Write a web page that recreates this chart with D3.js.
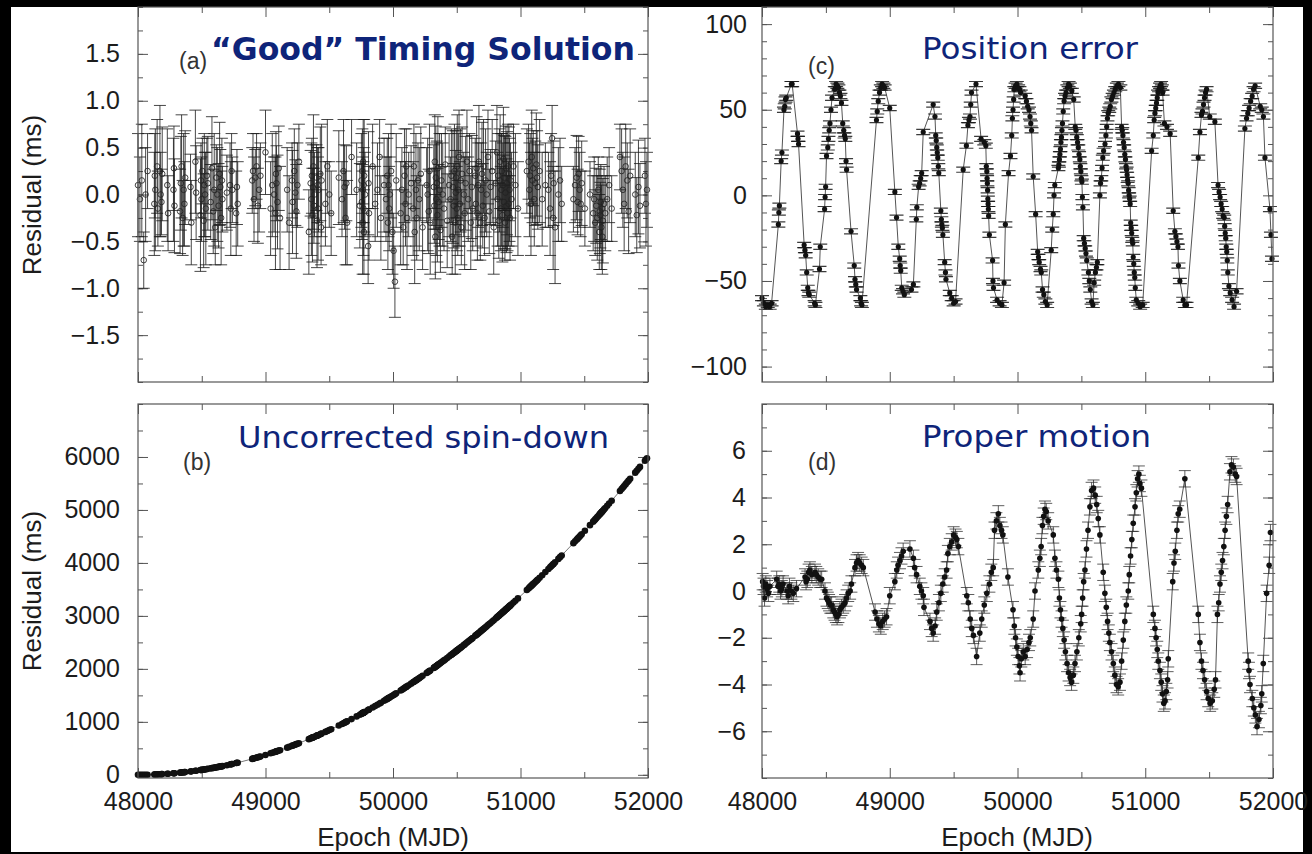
<!DOCTYPE html>
<html><head><meta charset="utf-8">
<script src="https://cdn.jsdelivr.net/npm/d3@7"></script>
<style>html,body{margin:0;padding:0;background:#000;}svg{display:block}</style>
</head><body><svg id="c" width="1312" height="854"></svg>
<script>
// ---------------- DATA ----------------
const epochs = [
48000,48015,48030,48045,48060,48075,48128,48132,48136,48150,48156,48172,48178,48184,48190,48230,48236,48278,48282,48286,
48330,48336,48342,48350,48358,48364,48370,48412,48418,48450,48456,48490,48494,48498,48505,48515,48520,48526,48532,48540,
48548,48570,48580,48590,48598,48606,48614,48622,48632,48640,48646,48652,48658,48662,48697,48722,48728,48734,48740,48770,
48776,48782,48896,48902,48910,48920,48930,48940,48950,48960,49000,49040,49053,49067,49078,49082,49086,49094,49104,49114,
49170,49185,49208,49212,49226,49234,49242,49250,49262,49340,49354,49360,49364,49368,49372,49376,49380,49384,49400,49404,
49408,49412,49416,49430,49436,49440,49470,49485,49500,49515,49575,49600,49612,49620,49628,49634,49640,49675,49715,49740,
49752,49756,49760,49762,49764,49766,49768,49770,49772,49774,49780,49805,49808,49812,49840,49860,49878,49895,49905,49930,
49945,49955,49960,49965,49970,49975,49985,49995,50005,50015,50025,50060,50070,50080,50090,50098,50104,50110,50123,50142,
50158,50164,50170,50180,50186,50196,50206,50218,50232,50264,50272,50280,50286,50292,50320,50324,50328,50332,50336,50340,
50344,50348,50352,50358,50365,50372,50380,50390,50400,50410,50425,50440,50452,50458,50464,50470,50476,50482,50488,50492,
50496,50500,50504,50508,50512,50518,50524,50530,50536,50542,50555,50562,50570,50580,50590,50600,50610,50618,50625,50645,
50650,50656,50662,50668,50674,50685,50692,50698,50704,50710,50718,50726,50735,50745,50755,50765,50778,50790,50805,50815,
50820,50825,50830,50835,50840,50845,50850,50854,50858,50862,50866,50870,50874,50878,50882,50886,50890,50894,50898,50902,
50906,50910,50914,50918,50922,50930,50945,50960,50980,51050,51063,51070,51076,51082,51088,51094,51100,51108,51116,51124,
51130,51136,51150,51170,51195,51219,51232,51240,51248,51256,51260,51271,51297,51310,51323,51415,51428,51440,51448,51456,
51464,51472,51480,51505,51545,51570,51578,51586,51594,51602,51610,51618,51622,51626,51630,51634,51638,51642,51646,51655,
51665,51680,51695,51715,51780,51793,51803,51813,51825,51837,51848,51860,51900,51912,51925,51937,51976,51984,51992];

// (a) residuals after good timing solution (ms) and their errors
const goodRes = [
0.10,-0.05,0.15,-0.70,0.00,0.25,-0.10,0.20,0.05,0.30,-0.15,0.25,0.00,-0.08,0.22,0.10,-0.20,0.05,0.28,-0.12,
-0.18,0.12,0.30,-0.25,0.05,-0.10,0.18,0.08,-0.30,0.35,0.02,-0.22,0.15,-0.05,0.25,-0.28,0.10,0.00,-0.15,0.20,
0.12,-0.08,0.28,-0.18,0.05,-0.35,0.18,0.00,-0.12,0.22,0.08,-0.25,0.15,-0.05,0.02,0.10,-0.15,0.25,0.05,-0.20,
0.08,-0.10,0.15,0.25,-0.05,0.18,0.30,-0.12,0.05,0.20,0.45,-0.15,0.10,0.00,-0.20,0.22,0.12,-0.08,0.28,-0.25,
0.05,-0.30,0.15,-0.08,0.25,0.02,-0.18,0.10,0.35,-0.40,0.12,-0.05,0.20,-0.22,0.08,0.30,-0.12,0.00,0.18,-0.28,
0.10,-0.15,0.05,0.22,-0.35,0.15,-0.10,0.30,0.00,-0.20,0.18,-0.05,0.25,0.08,-0.25,0.12,-0.30,0.40,0.05,-0.12,
0.15,-0.08,0.25,-0.30,0.05,0.35,-0.15,0.10,-0.40,0.20,0.00,-0.55,0.12,-0.20,0.30,-0.10,0.05,0.40,-0.25,0.10,
-0.05,0.20,-0.30,0.10,-0.15,0.00,0.25,-0.40,-0.60,-0.93,0.15,-0.20,0.05,-0.35,0.20,-0.10,0.30,-0.25,0.00,0.12,
-0.15,0.30,-0.40,0.05,-0.25,0.15,-0.05,0.22,-0.35,0.10,0.00,-0.18,0.25,-0.30,0.08,-0.12,0.35,-0.45,0.18,-0.05,
0.12,-0.22,0.28,-0.08,0.05,-0.38,0.15,0.00,-0.15,0.32,-0.28,0.10,-0.05,0.20,-0.45,0.08,-0.12,0.25,-0.30,0.02,
0.18,-0.15,0.30,-0.25,0.05,0.40,-0.10,0.15,-0.35,0.22,0.00,-0.20,0.12,0.35,-0.05,0.25,-0.30,0.08,-0.15,0.20,
-0.10,0.28,-0.20,0.10,0.35,-0.30,0.05,0.22,-0.12,0.30,-0.25,0.15,0.00,0.40,-0.18,0.08,0.25,-0.35,0.12,0.45,
-0.05,0.20,-0.28,0.15,0.35,-0.15,0.05,0.25,-0.22,0.10,0.38,-0.08,0.18,-0.30,0.02,0.28,-0.12,0.12,-0.20,0.30,
-0.10,0.22,0.05,-0.25,0.15,-0.05,0.30,0.10,-0.15,0.25,0.35,0.05,0.20,-0.10,0.40,0.15,0.28,-0.05,0.12,0.32,
0.18,0.08,0.25,-0.05,0.10,0.05,-0.15,0.20,0.60,-0.25,0.12,-0.35,0.00,0.15,-0.10,-0.05,0.10,0.18,-0.08,0.22,
0.05,-0.10,0.12,-0.15,0.00,-0.20,-0.05,-0.30,-0.12,-0.25,0.05,-0.40,-0.18,-0.22,-0.08,-0.35,-0.15,-0.45,-0.28,-0.10,
-0.20,-0.05,0.10,-0.15,0.40,0.25,0.05,-0.10,0.30,0.15,-0.18,0.20,0.00,-0.22,0.08,-0.12,0.20,-0.10,0.05];
const goodErr = [
0.55,0.45,0.60,0.30,0.50,0.40,0.55,0.45,0.65,0.50,0.40,0.70,0.45,0.35,0.50,0.60,0.40,0.55,0.45,0.50,
0.45,0.50,0.55,0.40,0.60,0.45,0.50,0.35,0.45,0.55,0.50,0.60,0.40,0.45,0.35,0.50,0.55,0.45,0.60,0.40,
0.50,0.40,0.55,0.45,0.60,0.40,0.35,0.50,0.45,0.55,0.40,0.50,0.45,0.35,0.40,0.45,0.50,0.40,0.35,0.45,
0.40,0.45,0.35,0.40,0.45,0.30,0.35,0.40,0.45,0.35,0.45,0.50,0.55,0.40,0.60,0.45,0.40,0.50,0.45,0.55,
0.45,0.50,0.40,0.55,0.45,0.35,0.50,0.45,0.40,0.45,0.35,0.60,0.40,0.50,0.45,0.55,0.40,0.45,0.35,0.50,
0.40,0.55,0.45,0.50,0.40,0.60,0.45,0.50,0.35,0.45,0.50,0.40,0.55,0.45,0.50,0.40,0.45,0.40,0.50,0.45,
0.50,0.40,0.45,0.55,0.35,0.45,0.50,0.40,0.45,0.60,0.45,0.40,0.55,0.50,0.45,0.40,0.50,0.40,0.45,0.50,
0.45,0.40,0.50,0.55,0.45,0.40,0.50,0.45,0.40,0.38,0.50,0.55,0.45,0.40,0.50,0.45,0.40,0.55,0.45,0.40,
0.50,0.45,0.55,0.60,0.45,0.40,0.55,0.50,0.45,0.40,0.60,0.45,0.50,0.55,0.45,0.40,0.50,0.45,0.55,0.60,
0.45,0.50,0.55,0.40,0.60,0.45,0.50,0.55,0.45,0.40,0.50,0.55,0.45,0.50,0.40,0.60,0.45,0.50,0.55,0.45,
0.50,0.45,0.55,0.40,0.60,0.50,0.45,0.55,0.40,0.50,0.45,0.60,0.50,0.55,0.45,0.40,0.50,0.55,0.45,0.40,
0.45,0.55,0.50,0.45,0.60,0.40,0.50,0.55,0.45,0.50,0.40,0.55,0.45,0.50,0.45,0.40,0.55,0.50,0.45,0.50,
0.50,0.45,0.40,0.55,0.50,0.45,0.60,0.40,0.50,0.45,0.55,0.50,0.45,0.40,0.60,0.45,0.50,0.55,0.40,0.45,
0.45,0.50,0.55,0.45,0.40,0.50,0.45,0.55,0.50,0.45,0.40,0.50,0.45,0.55,0.50,0.45,0.40,0.50,0.45,0.55,
0.50,0.45,0.55,0.50,0.45,0.40,0.50,0.45,0.35,0.55,0.45,0.60,0.50,0.45,0.40,0.35,0.40,0.45,0.35,0.40,
0.40,0.35,0.45,0.40,0.35,0.40,0.45,0.35,0.40,0.45,0.35,0.40,0.45,0.35,0.40,0.45,0.35,0.40,0.45,0.40,
0.40,0.45,0.40,0.35,0.35,0.45,0.40,0.50,0.45,0.40,0.45,0.50,0.45,0.40,0.50,0.45,0.40,0.45,0.40];

// (b) uncorrected spin-down residuals (ms)
const spinDown = [
0,0,0,1,1,2,6,7,7,8,9,11,12,13,14,20,21,29,30,31,
41,42,44,46,48,50,51,64,66,76,78,90,92,93,96,99,101,104,106,109,
113,122,126,131,134,138,141,145,150,154,157,159,162,164,182,196,199,202,205,222,
226,229,301,305,311,317,324,331,338,346,375,406,416,427,436,439,442,449,457,465,
513,527,547,551,564,571,579,586,597,673,688,694,698,702,706,710,714,718,735,739,
743,748,752,767,773,778,810,827,844,861,930,960,974,984,994,1001,1009,1052,1103,1135,
1151,1156,1162,1164,1167,1170,1172,1175,1178,1180,1188,1222,1226,1231,1270,1297,1323,1347,1361,1397,
1419,1433,1441,1448,1455,1463,1478,1493,1508,1523,1538,1591,1607,1622,1638,1651,1660,1670,1690,1721,
1746,1756,1766,1782,1792,1808,1825,1845,1868,1922,1936,1949,1960,1970,2018,2025,2032,2039,2046,2053,
2060,2067,2075,2085,2098,2110,2124,2142,2160,2178,2205,2233,2255,2266,2277,2288,2299,2310,2321,2329,
2336,2344,2351,2359,2366,2378,2389,2400,2412,2423,2448,2461,2477,2496,2516,2535,2555,2570,2584,2624,
2633,2645,2657,2669,2681,2703,2718,2730,2742,2754,2770,2787,2805,2826,2846,2867,2894,2919,2951,2972,
2982,2993,3003,3014,3025,3035,3046,3055,3063,3072,3080,3089,3098,3106,3115,3124,3132,3141,3150,3158,
3167,3176,3184,3193,3202,3219,3252,3286,3330,3488,3518,3534,3548,3562,3576,3590,3604,3622,3641,3660,
3674,3688,3721,3768,3828,3886,3917,3937,3956,3976,3985,4012,4076,4109,4141,4373,4407,4438,4458,4479,
4500,4521,4541,4607,4713,4779,4801,4822,4844,4865,4887,4909,4920,4931,4941,4952,4963,4974,4985,5010,
5037,5078,5120,5175,5358,5395,5424,5452,5487,5521,5553,5587,5704,5739,5777,5813,5929,5953,5976];

// (c) residuals with a position error (ms)
const posErr = [
-60,-63,-65,-64,-65,-63,-17,-10,-6,20,25,50,52,56,57,65,65,36,33,30,
-29,-32,-35,-45,-54,-57,-58,-63,-64,-43,-30,-8,-1,5,23,28,33,38,42,50,
57,62,65,64,63,60,58,54,42,38,35,33,20,15,-21,-41,-49,-52,-55,-60,
-63,-64,44,49,55,60,63,65,64,63,51,2,-13,-30,-37,-41,-44,-54,-56,-58,
-55,-52,-14,-7,5,7,10,13,37,53,46,35,32,28,25,22,17,13,-9,-14,
-17,-19,-23,-39,-45,-49,-57,-60,-63,-62,15,29,41,44,46,53,60,65,33,31,
29,17,14,10,7,3,-2,-5,-8,-12,-23,-38,-50,-54,-61,-63,-64,-51,-17,13,
23,35,45,50,56,62,64,65,63,62,60,58,55,52,50,46,42,38,11,-11,
-33,-36,-39,-43,-45,-55,-58,-62,-64,-32,-20,-11,0,6,16,18,21,24,27,31,
34,38,42,49,55,58,60,63,65,64,61,56,40,38,34,31,28,24,21,17,
14,10,8,-1,-7,-25,-28,-31,-34,-38,-45,-50,-55,-62,-64,-51,-45,-42,-39,0,
7,10,16,22,26,30,35,40,45,48,50,52,56,58,60,62,64,65,63,40,
38,35,31,28,24,21,17,15,12,9,7,3,0,-2,-5,-16,-19,-22,-26,-28,
-36,-40,-45,-48,-54,-61,-63,-65,-64,26,35,44,48,51,54,57,60,62,64,65,
63,60,42,40,36,-9,-21,-24,-27,-30,-41,-50,-61,-64,-64,22,37,47,49,53,
57,60,62,46,43,6,2,-1,-5,-8,-12,-13,-18,-22,-25,-30,-33,-38,-45,-53,
-57,-61,-65,-56,39,45,48,51,55,58,62,64,52,50,46,22,-8,-23,-37];
const posSigma = 1.5;

// (d) residuals with a proper-motion error (ms)
const pmEpochs = [
48005,48012,48020,48030,48040,48050,48062,48115,48125,48135,48145,48155,48165,48195,48205,48215,48230,48245,48270,48337,
48345,48355,48365,48375,48390,48415,48425,48440,48455,48467,48493,48505,48515,48525,48535,48545,48558,48568,48578,48588,
48598,48610,48622,48636,48650,48662,48675,48690,48700,48728,48740,48752,48765,48780,48793,48885,48900,48915,48930,48945,
48960,48975,49000,49040,49055,49065,49080,49092,49105,49158,49185,49195,49210,49235,49248,49262,49268,49315,49328,49340,
49355,49368,49385,49400,49415,49430,49445,49455,49470,49485,49500,49515,49525,49537,49603,49615,49630,49642,49655,49680,
49705,49720,49740,49760,49780,49795,49810,49820,49835,49850,49862,49875,49885,49925,49965,49975,49985,49995,50005,50015,
50020,50030,50045,50060,50075,50090,50100,50123,50137,50163,50175,50185,50195,50205,50215,50225,50240,50280,50293,50305,
50320,50328,50336,50345,50355,50365,50375,50388,50400,50412,50423,50437,50450,50465,50480,50495,50502,50510,50518,50528,
50540,50552,50567,50580,50595,50608,50620,50632,50645,50671,50684,50695,50705,50715,50723,50736,50750,50762,50775,50788,
50802,50815,50828,50840,50852,50867,50875,50885,50895,50906,50920,50930,50940,50950,50958,50970,51063,51076,51085,51094,
51102,51115,51125,51135,51145,51155,51165,51175,51180,51215,51225,51235,51248,51258,51270,51310,51415,51428,51440,51452,
51465,51480,51493,51508,51525,51540,51550,51565,51575,51585,51595,51605,51615,51625,51635,51645,51663,51675,51690,51705,
51715,51806,51812,51820,51838,51850,51862,51875,51890,51905,51912,51924,51950,51970,51980];
const pmRes = [
0.4,0.2,-0.3,0.3,0.1,-0.1,0.2,0.5,0.2,0.3,0.0,0.1,0.3,0.0,-0.2,0.2,0.0,-0.1,0.1,0.6,
0.4,0.5,0.8,0.9,0.7,0.8,0.7,0.6,0.5,0.5,0.0,-0.3,-0.4,-0.5,-0.6,-0.6,-0.8,-0.9,-1.0,-1.1,
-1.0,-0.8,-0.7,-0.6,-0.5,-0.3,-0.1,0.0,0.3,1.0,1.2,1.3,1.2,1.1,1.0,-0.9,-1.2,-1.4,-1.5,-1.3,
-1.2,-1.1,-0.2,0.4,0.9,1.1,1.3,1.5,1.7,1.8,1.4,1.0,0.7,0.2,0.0,-0.2,-0.7,-1.3,-1.6,-1.8,
-1.5,-0.9,-0.5,-0.1,0.3,0.6,0.9,1.6,1.9,2.1,2.4,2.3,2.2,1.9,-0.2,-0.5,-1.2,-1.6,-1.9,-2.8,
-1.8,-1.2,-0.6,-0.1,0.3,0.8,1.0,2.6,3.0,3.3,2.8,2.6,2.4,0.6,-0.8,-1.5,-2.0,-2.4,-2.8,-3.2,
-3.5,-2.9,-2.6,-2.8,-2.5,-2.2,-2.0,-1.2,0.0,0.9,1.4,1.9,2.8,3.2,3.5,3.4,3.0,2.4,1.4,0.9,
0.5,-0.3,-0.8,-1.2,-1.6,-2.1,-2.6,-3.1,-3.5,-3.7,-3.9,-3.6,-3.1,-2.6,-2.0,-1.4,-1.0,-0.3,0.4,0.9,
1.8,2.6,3.6,4.3,4.4,4.1,3.7,3.1,2.4,0.8,-0.1,-0.7,-1.3,-1.8,-2.2,-2.6,-3.1,-3.6,-4.0,-4.1,
-3.9,-3.0,-2.1,-1.3,-0.6,0.0,0.7,1.5,2.2,2.9,3.6,4.2,4.8,5.0,4.6,4.4,-1.0,-1.6,-2.0,-2.5,
-3.0,-3.4,-3.9,-4.4,-4.8,-4.7,-4.3,-3.8,-2.9,0.4,1.2,1.7,2.6,3.3,3.5,4.8,-1.0,-2.2,-3.0,-3.4,
-3.8,-4.3,-4.6,-4.8,-4.7,-4.2,-3.8,-1.0,-0.5,0.3,0.8,1.3,1.9,2.6,3.2,3.7,5.1,5.4,5.3,5.0,
4.9,-3.0,-3.4,-4.0,-4.6,-5.0,-5.3,-5.8,-5.5,-4.9,-4.4,-3.1,-0.1,1.1,2.5];
const pmSigma = 0.35;

const xTicks = [48000, 49000, 50000, 51000, 52000];
const yTicksA = [-1.5, -1.0, -0.5, 0.0, 0.5, 1.0, 1.5];
const yTicksB = [0, 1000, 2000, 3000, 4000, 5000, 6000];
const yTicksC = [-100, -50, 0, 50, 100];
const yTicksD = [-6, -4, -2, 0, 2, 4, 6];
const titles = ["“Good” Timing Solution", "Uncorrected spin-down", "Position error", "Proper motion"];
const tags = ["(a)", "(b)", "(c)", "(d)"];

// ---------------- DRAWING ----------------
const svg = d3.select('#c');
svg.append('rect').attr('width',1312).attr('height',854).attr('fill','#000');
svg.append('rect').attr('x',11).attr('y',7).attr('width',1292).attr('height',845).attr('fill','#fff');

const TICKFONT = '"Liberation Sans", Arial, Helvetica, sans-serif';
const AXC = '#555';

function panel(x0, x1, y0, y1, yDom, yMajor, yMinorStep, fmt, showX, pad) {
  const x = d3.scaleLinear().domain([48000, 52000]).range([x0, x1]);
  const y = d3.scaleLinear().domain(yDom).range([y1, y0]);
  const g = svg.append('g');
  const yMinor = d3.range(Math.ceil(yDom[0]/yMinorStep)*yMinorStep, yDom[1]+1e-9, yMinorStep);
  const xMinor = d3.range(48500, 52000, 1000);
  const style = sel => {
    sel.attr('font-family', null).attr('font-size', null);
    sel.select('.domain').remove();
    sel.selectAll('line').attr('stroke', AXC).attr('stroke-width', 1);
    sel.selectAll('text').attr('fill', '#1c1c1c').style('font-family', TICKFONT).style('font-size', '25px');
  };
  g.append('g').attr('transform', `translate(${x0},0)`)
    .call(d3.axisLeft(y).tickValues(yMajor).tickSizeInner(-10).tickSizeOuter(0).tickPadding(pad).tickFormat(d3.format(fmt))).call(style);
  g.append('g').attr('transform', `translate(${x0},0)`)
    .call(d3.axisLeft(y).tickValues(yMinor).tickSizeInner(-5).tickSizeOuter(0).tickFormat('')).call(style);
  g.append('g').attr('transform', `translate(${x1},0)`)
    .call(d3.axisRight(y).tickValues(yMajor).tickSizeInner(-10).tickSizeOuter(0).tickFormat('')).call(style);
  g.append('g').attr('transform', `translate(${x1},0)`)
    .call(d3.axisRight(y).tickValues(yMinor).tickSizeInner(-5).tickSizeOuter(0).tickFormat('')).call(style);
  g.append('g').attr('transform', `translate(0,${y1})`)
    .call(d3.axisBottom(x).tickValues(xTicks).tickSizeInner(-10).tickSizeOuter(0).tickPadding(14).tickFormat(showX ? d3.format('d') : '')).call(style);
  g.append('g').attr('transform', `translate(0,${y1})`)
    .call(d3.axisBottom(x).tickValues(xMinor).tickSizeInner(-6).tickSizeOuter(0).tickFormat('')).call(style);
  g.append('g').attr('transform', `translate(0,${y0})`)
    .call(d3.axisTop(x).tickValues(xTicks).tickSizeInner(-10).tickSizeOuter(0).tickFormat('')).call(style);
  g.append('g').attr('transform', `translate(0,${y0})`)
    .call(d3.axisTop(x).tickValues(xMinor).tickSizeInner(-6).tickSizeOuter(0).tickFormat('')).call(style);
  const data = g.append('g');
  g.append('rect').attr('x', x0).attr('y', y0).attr('width', x1 - x0).attr('height', y1 - y0)
    .attr('fill', 'none').attr('stroke', AXC).attr('stroke-width', 1.2);
  return {x, y, g: data};
}

// (a)
{
  const {x, y, g} = panel(138, 648, 7, 382, [-2, 2], yTicksA, 0.25, '.1f', false, 18);
  const d = epochs.map((t, i) => ({t, v: goodRes[i], e: goodErr[i]}));
  g.selectAll('path.eb').data(d).join('path')
    .attr('d', p => { const px = x(p.t), a = y(p.v + p.e), b = y(p.v - p.e);
      return `M${px},${a}V${b}M${px-6},${a}h12M${px-6},${b}h12`; })
    .attr('fill', 'none').attr('stroke', '#1a1a1a').attr('stroke-width', 1).attr('stroke-opacity', 0.8);
  g.selectAll('circle').data(d).join('circle')
    .attr('cx', p => x(p.t)).attr('cy', p => y(p.v)).attr('r', 2.8)
    .attr('fill', 'none').attr('stroke', '#222').attr('stroke-width', 1).attr('stroke-opacity', 0.85);
}
// (b)
{
  const {x, y, g} = panel(138, 648, 404, 778, [-60, 7000], yTicksB, 500, 'd', true, 18);
  const d = epochs.map((t, i) => ({t, v: spinDown[i]}));
  g.append('path').datum(d).attr('d', d3.line().x(p => x(p.t)).y(p => y(p.v)))
    .attr('fill', 'none').attr('stroke', '#777').attr('stroke-width', 1);
  g.selectAll('circle').data(d).join('circle')
    .attr('cx', p => x(p.t)).attr('cy', p => y(p.v)).attr('r', 3.3).attr('fill', '#111');
}
// (c)
{
  const {x, y, g} = panel(762, 1273, 7, 382, [-109, 110], yTicksC, 10, 'd', false, 15);
  const d = epochs.map((t, i) => ({t, v: posErr[i]}));
  g.append('path').datum(d).attr('d', d3.line().x(p => x(p.t)).y(p => y(p.v)))
    .attr('fill', 'none').attr('stroke', '#555').attr('stroke-width', 1);
  g.selectAll('path.eb').data(d).join('path')
    .attr('d', p => { const px = x(p.t), a = y(p.v + posSigma), b = y(p.v - posSigma);
      return `M${px},${a}V${b}M${px-7},${a}h14M${px-7},${b}h14`; })
    .attr('fill', 'none').attr('stroke', '#1a1a1a').attr('stroke-width', 1.2).attr('stroke-opacity', 0.85);
  g.selectAll('circle').data(d).join('circle')
    .attr('cx', p => x(p.t)).attr('cy', p => y(p.v)).attr('r', 2.6).attr('fill', '#111');
}
// (d)
{
  const {x, y, g} = panel(762, 1273, 404, 778, [-8, 8], yTicksD, 1, 'd', true, 16);
  const d = pmEpochs.map((t, i) => ({t, v: pmRes[i]}));
  g.append('path').datum(d).attr('d', d3.line().x(p => x(p.t)).y(p => y(p.v)))
    .attr('fill', 'none').attr('stroke', '#555').attr('stroke-width', 1);
  g.selectAll('path.eb').data(d).join('path')
    .attr('d', p => { const px = x(p.t), a = y(p.v + pmSigma), b = y(p.v - pmSigma);
      return `M${px},${a}V${b}M${px-6},${a}h12M${px-6},${b}h12`; })
    .attr('fill', 'none').attr('stroke', '#2a2a2a').attr('stroke-width', 1).attr('stroke-opacity', 0.75);
  g.selectAll('circle').data(d).join('circle')
    .attr('cx', p => x(p.t)).attr('cy', p => y(p.v)).attr('r', 2.8).attr('fill', '#111');
}

// titles and labels
const NAVY = '#0e2479';
const addT = (txt, xx, yy, len, size, weight) => svg.append('text').attr('x', xx).attr('y', yy)
  .attr('textLength', len).attr('lengthAdjust', 'spacingAndGlyphs')
  .style('font-family', '"DejaVu Sans", Verdana, sans-serif').style('font-size', size + 'px')
  .style('font-weight', weight).attr('fill', NAVY).text(txt);
addT(titles[0], 211, 60, 424, 32, 'bold');
addT(titles[1], 238, 448, 371, 30, 'normal');
addT(titles[2], 922, 59, 216, 31, 'normal');
addT(titles[3], 922, 447, 229, 30, 'normal');

const tagPos = [[179, 69], [183, 470], [808, 74], [808, 470]];
tags.forEach((t, i) => svg.append('text').attr('x', tagPos[i][0]).attr('y', tagPos[i][1])
  .style('font-family', TICKFONT).style('font-size', '23px').attr('fill', '#333').text(t));

[195, 591].forEach(cy => svg.append('text')
  .attr('transform', `translate(41,${cy}) rotate(-90)`).attr('text-anchor', 'middle')
  .style('font-family', TICKFONT).style('font-size', '26px').attr('fill', '#1c1c1c').text('Residual (ms)'));
[393, 1017].forEach(cx => svg.append('text').attr('x', cx).attr('y', 846).attr('text-anchor', 'middle')
  .style('font-family', TICKFONT).style('font-size', '26px').attr('fill', '#1c1c1c').text('Epoch (MJD)'));
</script>
</body></html>
